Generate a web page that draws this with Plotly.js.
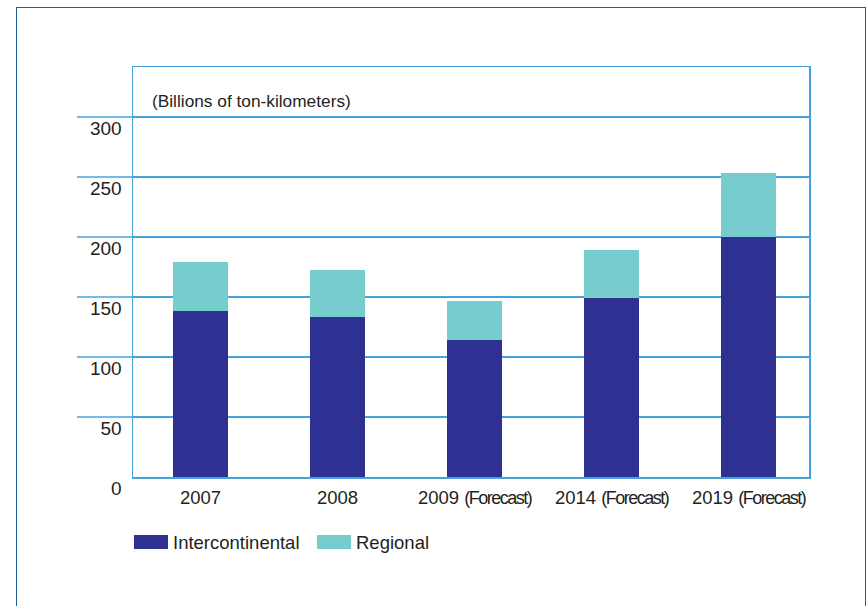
<!DOCTYPE html>
<html>
<head>
<meta charset="utf-8">
<script src="https://cdn.plot.ly/plotly-3.0.1.min.js"></script>
<style>
  html, body { margin: 0; padding: 0; background: #ffffff; overflow: hidden; }
  #wrap { position: relative; width: 867px; height: 606px; }
  #chart { position: absolute; left: 0; top: 0; width: 867px; height: 606px; }
  #frame { position: absolute; left: 16px; top: 7px; width: 848px; height: 620px;
           border: 1.5px solid #1f5f96; pointer-events: none; }
</style>
</head>
<body>
<div id="wrap">
  <div id="chart"></div>
  <div id="frame"></div>
</div>
<script>
// ---- data ----
const categories = ["2007", "2008", "2009 (Forecast)", "2014 (Forecast)", "2019 (Forecast)"];
const intercontinental = [138, 133, 114, 149, 200];
const regional = [41, 39.5, 32.5, 40, 53];
const seriesNames = ["Intercontinental", "Regional"];
const yTicks = [0, 50, 100, 150, 200, 250, 300];
const unitLabel = "(Billions of ton-kilometers)";

// ---- styles ----
const colors = ["#2e3192", "#77cccd"];
const gridColor = "#45a3dc";
const textColor = "#231f20";
const font = "Liberation Sans, Arial, Helvetica, sans-serif";

const tickText = categories.map(c => {
  const m = c.match(/^(\S+)\s+(\(.*\))$/);
  return m ? m[1] + ' <span style="font-size:18px;letter-spacing:-1.5px">' + m[2] + '</span>' : c;
});

const traces = [
  { type: "bar", x: categories, y: intercontinental, name: seriesNames[0],
    marker: { color: colors[0], line: { width: 0 } }, width: 0.4, showlegend: false },
  { type: "bar", x: categories, y: regional, name: seriesNames[1],
    marker: { color: colors[1], line: { width: 0 } }, width: 0.4, showlegend: false }
];

const plotW = 867 - 133 - 58;
const shapes = [];
// gridline extensions to the left of the plot
yTicks.filter(v => v > 0).forEach(v => {
  shapes.push({ type: "line", xref: "paper", yref: "y", x0: -56 / plotW, x1: 0, y0: v, y1: v,
    line: { color: gridColor, width: 1.5 }, layer: "below" });
});

// custom legend
const legendX = [0, 183];      // px offsets from plot left
const legendY = 542;           // px from top
const annotations = [
  { xref: "paper", yref: "paper", x: 17 / plotW, y: (477 - 101) / 410, xanchor: "left", yanchor: "middle",
    text: unitLabel, showarrow: false, font: { family: font, size: 17.3, color: textColor } }
];
seriesNames.forEach((n, i) => {
  const x0 = (1 + legendX[i]) / plotW;
  shapes.push({ type: "rect", xref: "paper", yref: "paper",
    x0: x0, x1: x0 + 34 / plotW,
    y0: (477 - (legendY + 7)) / 410, y1: (477 - (legendY - 7)) / 410,
    fillcolor: colors[i], line: { width: 0 } });
  annotations.push({ xref: "paper", yref: "paper", x: x0 + 37 / plotW, y: (477 - legendY) / 410,
    xanchor: "left", yanchor: "middle", text: n, showarrow: false,
    font: { family: font, size: 18.5, color: textColor } });
});

const layout = {
  width: 867, height: 606,
  margin: { l: 133, r: 58, t: 67, b: 129, pad: 0 },
  paper_bgcolor: "#ffffff", plot_bgcolor: "#ffffff",
  barmode: "stack",
  showlegend: false,
  font: { family: font, color: textColor, size: 19 },
  xaxis: {
    type: "category", tickvals: categories, ticktext: tickText,
    range: [-0.493, 4.441],
    showgrid: false, zeroline: false, ticks: "",
    showline: true, mirror: true, linecolor: gridColor, linewidth: 1.5,
    tickfont: { family: font, size: 18.5, color: textColor },
    ticklabelstandoff: 3
  },
  yaxis: {
    range: [0, 410 / 1.2], tickvals: yTicks, ticktext: yTicks.map(String),
    showgrid: true, gridcolor: gridColor, gridwidth: 1.5,
    zeroline: false, ticks: "",
    showline: true, mirror: true, linecolor: gridColor, linewidth: 1.5,
    tickfont: { family: font, size: 19, color: textColor },
    ticklabelstandoff: 6, ticklabelshift: 11
  },
  shapes: shapes,
  annotations: annotations
};

Plotly.newPlot("chart", traces, layout, { staticPlot: true, displayModeBar: false });
</script>
</body>
</html>
